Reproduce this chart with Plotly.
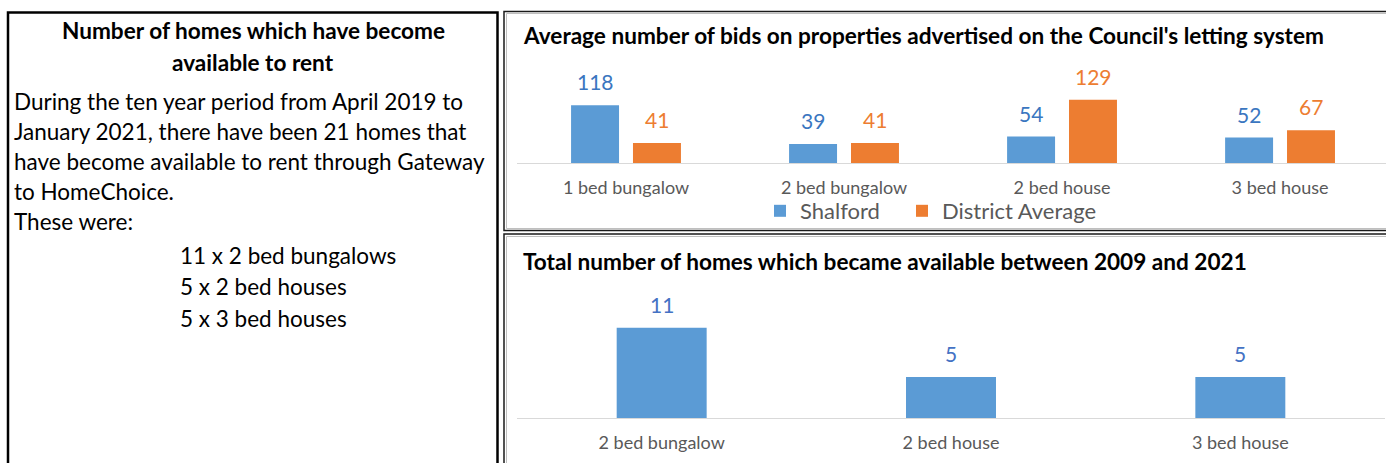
import plotly.graph_objects as go

W, H = 1386, 463

# ---- data ----
bid_categories = ["1 bed bungalow", "2 bed bungalow", "2 bed house", "3 bed house"]
shalford_bids = [118, 39, 54, 52]
district_bids = [41, 41, 129, 67]

home_categories = ["2 bed bungalow", "2 bed house", "3 bed house"]
homes_available = [11, 5, 5]

title_top = "Average number of bids on properties advertised on the Council's letting system"
title_bottom = "Total number of homes which became available between 2009 and 2021"

left_title = ["Number of homes which have become", "available to rent"]
left_body = [
    "During the ten year period from April 2019 to",
    "January 2021, there have been 21 homes that",
    "have become available to rent through Gateway",
    "to HomeChoice.",
    "These were:",
]
left_list = ["11 x 2 bed bungalows", "5 x 2 bed houses", "5 x 3 bed houses"]

FONT = "Lato"
BLUE = "#5B9BD5"
ORANGE = "#ED7D31"
BLUE_TXT = "#3A76C0"
BLUE_TXT2 = "#4472C4"
GREY_TXT = "#595959"


def px(x):
    return x / W


def py(y):
    return 1 - y / H


fig = go.Figure()
fig.add_trace(go.Bar(x=bid_categories, y=shalford_bids, name="Shalford",
                     marker=dict(color=BLUE, line=dict(width=0)),
                     width=0.22, offset=-0.252, xaxis="x", yaxis="y",
                     legend="legend", hoverinfo="x+y"))
fig.add_trace(go.Bar(x=bid_categories, y=district_bids, name="District Average",
                     marker=dict(color=ORANGE, line=dict(width=0)),
                     width=0.22, offset=0.032, xaxis="x", yaxis="y",
                     legend="legend2", hoverinfo="x+y"))
fig.add_trace(go.Bar(x=home_categories, y=homes_available, name="Homes",
                     marker=dict(color=BLUE, line=dict(width=0)),
                     width=0.311, offset=-0.1555, xaxis="x2", yaxis="y2",
                     showlegend=False, hoverinfo="x+y"))

annotations = []
# value labels
for c, v in zip(bid_categories, shalford_bids):
    annotations.append(dict(x=c, y=v, xref="x", yref="y", text=str(v), showarrow=False,
                            xshift=-31, yshift=23.5, yanchor="middle",
                            font=dict(family=FONT, size=21, color=BLUE_TXT)))
for c, v in zip(bid_categories, district_bids):
    annotations.append(dict(x=c, y=v, xref="x", yref="y", text=str(v), showarrow=False,
                            xshift=31, yshift=23.5, yanchor="middle",
                            font=dict(family=FONT, size=21, color=ORANGE)))
for c, v in zip(home_categories, homes_available):
    annotations.append(dict(x=c, y=v, xref="x2", yref="y2", text=str(v), showarrow=False,
                            yshift=23.5, yanchor="middle",
                            font=dict(family=FONT, size=21, color=BLUE_TXT2)))

# chart titles
annotations.append(dict(x=px(521), y=py(35), xref="paper", yref="paper", text="<b>%s</b>" % title_top,
                        showarrow=False, xanchor="left", yanchor="middle",
                        font=dict(family=FONT, size=22.6, color="#000000")))
annotations.append(dict(x=px(521), y=py(261), xref="paper", yref="paper", text="<b>%s</b>" % title_bottom,
                        showarrow=False, xanchor="left", yanchor="middle",
                        font=dict(family=FONT, size=22.6, color="#000000")))

# left text box
for i, t in enumerate(left_title):
    annotations.append(dict(x=px(253), y=py(30 + 32 * i), xref="paper", yref="paper", text="<b>%s</b>" % t,
                            showarrow=False, xanchor="center", yanchor="middle",
                            font=dict(family=FONT, size=22.6, color="#000000")))
for i, t in enumerate(left_body):
    annotations.append(dict(x=px(12), y=py(101 + 30.2 * i), xref="paper", yref="paper", text=t,
                            showarrow=False, xanchor="left", yanchor="middle",
                            font=dict(family=FONT, size=22.5, color="#000000")))
for i, t in enumerate(left_list):
    annotations.append(dict(x=px(178), y=py(255 + 31.5 * i), xref="paper", yref="paper", text=t,
                            showarrow=False, xanchor="left", yanchor="middle",
                            font=dict(family=FONT, size=22.5, color="#000000")))

shapes = [
    # left box
    dict(type="rect", xref="paper", yref="paper", x0=px(8), x1=px(497.5), y0=py(475), y1=py(12.5),
         line=dict(color="#000000", width=2.5), fillcolor="rgba(0,0,0,0)"),
    # top right box
    dict(type="rect", xref="paper", yref="paper", x0=px(504), x1=px(1392), y0=py(230.5), y1=py(11.5),
         line=dict(color="#1a1a1a", width=1.5), fillcolor="rgba(0,0,0,0)"),
    dict(type="rect", xref="paper", yref="paper", x0=px(506.5), x1=px(1390), y0=py(228.5), y1=py(13.5),
         line=dict(color="#BFBFBF", width=1), fillcolor="rgba(0,0,0,0)"),
    # bottom right box
    dict(type="rect", xref="paper", yref="paper", x0=px(504), x1=px(1392), y0=py(480), y1=py(234),
         line=dict(color="#1a1a1a", width=1.5), fillcolor="rgba(0,0,0,0)"),
    dict(type="rect", xref="paper", yref="paper", x0=px(506.5), x1=px(1390), y0=py(480), y1=py(236.5),
         line=dict(color="#BFBFBF", width=1), fillcolor="rgba(0,0,0,0)"),
]

axis_common = dict(type="category", showline=True, linecolor="#D9D9D9", linewidth=1,
                   ticks="", showgrid=False, zeroline=False, fixedrange=True,
                   tickfont=dict(family=FONT, size=18, color=GREY_TXT), ticklabelstandoff=8)

legend_common = dict(orientation="h", yanchor="middle", xanchor="left",
                     font=dict(family=FONT, size=22, color=GREY_TXT), bgcolor="rgba(0,0,0,0)",
                     itemwidth=30, tracegroupgap=0, borderwidth=0)

fig.update_layout(
    width=W, height=H, autosize=False,
    margin=dict(l=0, r=0, t=0, b=0, pad=0),
    paper_bgcolor="white", plot_bgcolor="white",
    barmode="overlay",
    font=dict(family=FONT),
    showlegend=True,
    xaxis=dict(domain=[px(517), 1.0], range=[-0.5, 3.486], anchor="y", **axis_common),
    yaxis=dict(domain=[py(163), py(60)], range=[0, 103 / 0.49], visible=False, fixedrange=True),
    xaxis2=dict(domain=[px(517), px(1385)], range=[-0.5, 2.5], anchor="y2", **axis_common),
    yaxis2=dict(domain=[py(418), py(300)], range=[0, 118 / 8.2], visible=False, fixedrange=True),
    legend=dict(x=px(760), y=py(211), **legend_common),
    legend2=dict(x=px(902), y=py(211), **legend_common),
    annotations=annotations,
    shapes=shapes,
)

fig.write_html("out.html", config={"displayModeBar": False},
               post_script="document.body.style.margin='0';document.body.style.overflow='hidden';")
